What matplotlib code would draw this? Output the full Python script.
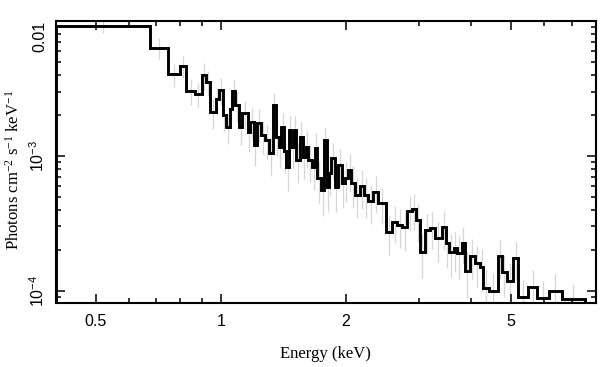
import numpy as np
import matplotlib
matplotlib.use("Agg")
import matplotlib.pyplot as plt
from matplotlib.ticker import FixedLocator, FixedFormatter, NullFormatter

plt.rcParams['mathtext.fontset'] = 'custom'
plt.rcParams['mathtext.rm'] = 'Liberation Serif'
plt.rcParams['mathtext.it'] = 'Liberation Serif:italic'
plt.rcParams['mathtext.sf'] = 'Liberation Sans'

# Bin edges (keV)
edges = [0.400, 0.674, 0.747, 0.797, 0.827, 0.866, 0.900, 0.924, 0.943, 0.973,
         0.991, 1.010, 1.028, 1.055, 1.067, 1.081, 1.107, 1.128, 1.164, 1.179,
         1.201, 1.223, 1.253, 1.277, 1.307, 1.337, 1.357, 1.380, 1.400, 1.421,
         1.440, 1.458, 1.480, 1.502, 1.522, 1.550, 1.574, 1.603, 1.623, 1.663,
         1.685, 1.710, 1.748, 1.771, 1.798, 1.824, 1.848, 1.882, 1.917, 1.954,
         1.990, 2.027, 2.065, 2.103, 2.163, 2.211, 2.264, 2.328, 2.394, 2.498,
         2.592, 2.665, 2.740, 2.811, 2.890, 2.950, 3.016, 3.101, 3.188, 3.278,
         3.402, 3.485, 3.549, 3.643, 3.710, 3.802, 3.872, 3.981, 4.093, 4.208,
         4.286, 4.431, 4.643, 4.747, 4.897, 5.063, 5.205, 5.502, 5.784, 6.182,
         6.622, 7.540]

# Flux per bin (1e-3 photons cm^-2 s^-1 keV^-1)
flux_e3 = [9.23, 6.37, 4.04, 4.66, 3.05, 2.89, 3.99, 3.56, 2.13, 2.64,
           3.09, 2.02, 1.65, 2.22, 3.05, 2.39, 1.65, 2.07, 1.52, 1.80,
           1.21, 1.75, 1.43, 1.31, 1.05, 2.39, 1.39, 1.17, 1.65, 1.08,
           0.833, 1.56, 1.17, 1.56, 0.934, 1.39, 0.988, 1.17, 0.934, 0.833,
           1.14, 0.683, 0.559, 1.31, 0.592, 0.748, 0.961, 0.592, 0.858, 0.627,
           0.683, 0.787, 0.627, 0.513, 0.599, 0.513, 0.463, 0.543, 0.448, 0.274,
           0.325, 0.307, 0.296, 0.391, 0.402, 0.335, 0.195, 0.282, 0.294, 0.245,
           0.296, 0.225, 0.195, 0.206, 0.189, 0.227, 0.141, 0.181, 0.161, 0.151,
           0.104, 0.0995, 0.181, 0.137, 0.119, 0.174, 0.0893, 0.107, 0.0878, 0.100,
           0.0863]

# Relative errors per bin
rel_err = [0.12, 0.18, 0.20, 0.18, 0.22, 0.20, 0.22, 0.20, 0.25, 0.24,
           0.22, 0.26, 0.25, 0.28, 0.22, 0.25, 0.27, 0.24, 0.30, 0.26,
           0.30, 0.27, 0.28, 0.29, 0.32, 0.22, 0.28, 0.30, 0.26, 0.31,
           0.34, 0.27, 0.30, 0.28, 0.33, 0.29, 0.32, 0.30, 0.31, 0.33,
           0.30, 0.34, 0.36, 0.26, 0.35, 0.32, 0.30, 0.35, 0.31, 0.34,
           0.33, 0.31, 0.34, 0.33, 0.32, 0.33, 0.32, 0.31, 0.30, 0.33,
           0.31, 0.32, 0.33, 0.29, 0.30, 0.31, 0.36, 0.32, 0.31, 0.33,
           0.32, 0.34, 0.35, 0.33, 0.35, 0.31, 0.37, 0.33, 0.34, 0.35,
           0.38, 0.36, 0.32, 0.35, 0.36, 0.31, 0.34, 0.33, 0.35, 0.33,
           0.30]

x_major = [0.5, 1, 2, 5]
x_major_labels = ['0.5', '1', '2', '5']
x_minor = [0.4, 0.6, 0.7, 0.8, 0.9, 3, 4, 6, 7, 8]
y_major = [1e-4, 1e-3, 1e-2]
y_major_labels = [r'$\mathsf{10^{-4}}$', r'$\mathsf{10^{-3}}$', '0.01']

edges_a = np.array(edges)
flux = np.array(flux_e3) * 1e-3
err = flux * np.array(rel_err)
centers = np.sqrt(edges_a[:-1] * edges_a[1:])

fig = plt.figure(figsize=(6.08, 3.67), dpi=100)
ax = fig.add_axes([55.5/608, 1 - 303.3/367, (595.7 - 55.5)/608, (303.3 - 20.5)/367])

ax.errorbar(centers, flux, yerr=err, fmt='none', ecolor='#d6d6d6',
            elinewidth=0.9, capsize=0, zorder=1)
ax.stairs(flux, edges_a, baseline=1e-6, fill=False, color='black',
          linewidth=2.1, zorder=3)

ax.set_xscale('log')
ax.set_yscale('log')
ax.set_xlim(0.4, 8.0)
ax.set_ylim(8.06e-5, 0.01014)

ax.xaxis.set_major_locator(FixedLocator(x_major))
ax.xaxis.set_major_formatter(FixedFormatter(x_major_labels))
ax.xaxis.set_minor_locator(FixedLocator(x_minor))
ax.xaxis.set_minor_formatter(NullFormatter())

y_minor = [m * d for d in (1e-5, 1e-4, 1e-3) for m in range(2, 10)]
ax.yaxis.set_major_locator(FixedLocator(y_major))
ax.yaxis.set_major_formatter(FixedFormatter(y_major_labels))
ax.yaxis.set_minor_locator(FixedLocator(y_minor))
ax.yaxis.set_minor_formatter(NullFormatter())

for sp in ax.spines.values():
    sp.set_linewidth(1.5)

ax.tick_params(which='both', direction='in', top=True, right=True, width=1.1)
ax.tick_params(which='major', length=6.5)
ax.tick_params(which='minor', length=3.5)
ax.tick_params(axis='x', which='major', pad=8, labelsize=11.5)
ax.tick_params(axis='y', which='major', pad=6, labelsize=11.5)

for lab in ax.get_xticklabels():
    lab.set_fontfamily('Liberation Sans')
for lab in ax.get_yticklabels():
    lab.set_fontfamily('Liberation Sans')
    lab.set_rotation(90)
    lab.set_va('center')
ax.get_yticklabels()[2].set_va('top')

ax.set_xlabel('Energy (keV)', fontfamily='Liberation Serif', fontsize=12, labelpad=12)
ax.set_ylabel(r'Photons cm$^{-2}$ s$^{-1}$ keV$^{-1}$', fontfamily='Liberation Serif',
              fontsize=12)
ax.yaxis.set_label_coords(-(55.5 - 23) / (595.7 - 55.5), (303.3 - 170) / (303.3 - 20.5))

fig.savefig('out.png', dpi=100)
